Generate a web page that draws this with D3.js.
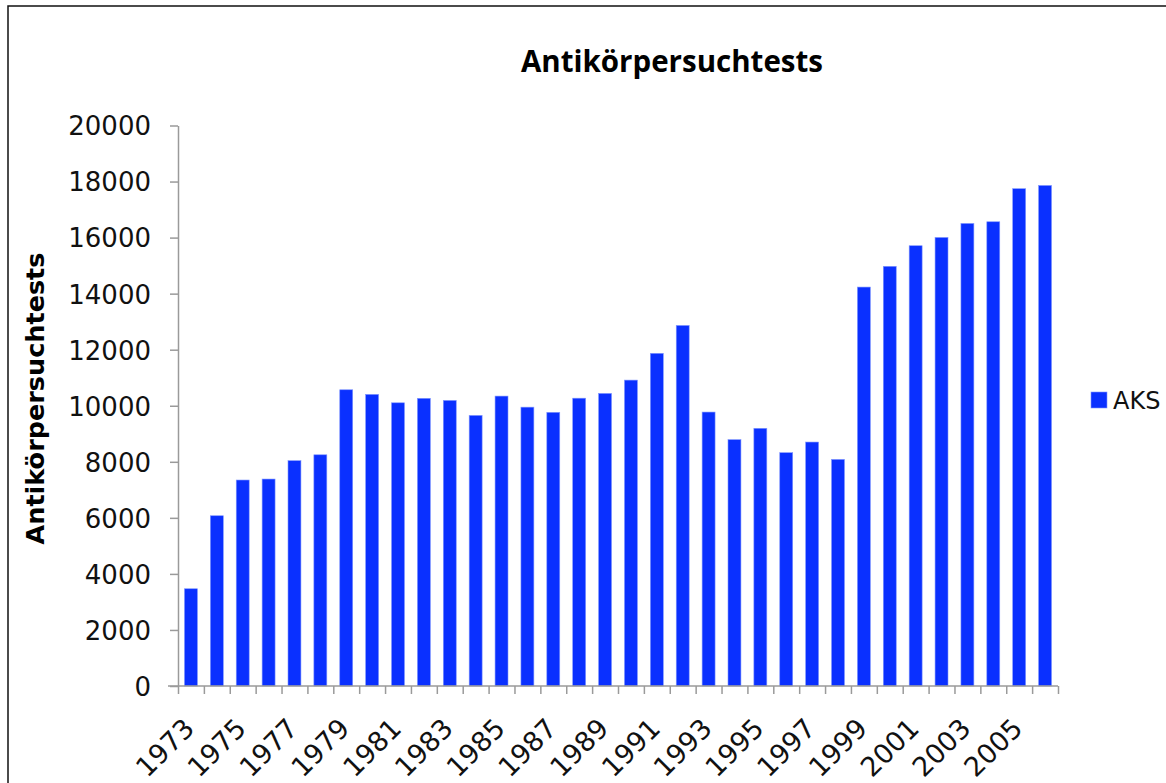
<!DOCTYPE html>
<html>
<head>
<meta charset="utf-8">
<script src="https://cdn.jsdelivr.net/npm/d3@7"></script>
<style>
  body { margin: 0; background: #fff; }
  svg { display: block; }
</style>
</head>
<body>
<div id="chart"></div>
<script>
// data
const years = [
  "1973", "1974", "1975", "1976", "1977", "1978", "1979", "1980", "1981",
  "1982", "1983", "1984", "1985", "1986", "1987", "1988", "1989", "1990",
  "1991", "1992", "1993", "1994", "1995", "1996", "1997", "1998", "1999",
  "2000", "2001", "2002", "2003", "2004", "2005", "2006",
];
const aks = [
  3470, 6075, 7350, 7385, 8040, 8250, 10570, 10405, 10105,
  10265, 10190, 9655, 10345, 9950, 9765, 10270, 10440, 10915,
  11870, 12865, 9775, 8790, 9195, 8325, 8705, 8085, 14235,
  14975, 15710, 16005, 16505, 16565, 17745, 17860,
];
const yTicks = [0, 2000, 4000, 6000, 8000, 10000, 12000, 14000, 16000, 18000, 20000];
const seriesName = "AKS";
const chartTitle = "Antikörpersuchtests";

const W = 1166, H = 783;
const margin = { top: 125.5, left: 178, right: 108, bottom: 97 },
  width = W - margin.left - margin.right,
  height = H - margin.top - margin.bottom;

const svg = d3.select("#chart").append("svg")
  .attr("width", W)
  .attr("height", H);

// outer frame (right and bottom edges fall outside the picture)
svg.append("rect")
  .attr("x", 8).attr("y", 6)
  .attr("width", W + 20).attr("height", H + 20)
  .attr("fill", "none")
  .attr("stroke", "#111")
  .attr("stroke-width", 1.5);

const g = svg.append("g")
  .attr("transform", `translate(${margin.left},${margin.top})`);

const x = d3.scaleBand().domain(years).range([0, width]).paddingInner(0.5).paddingOuter(0.25);
const xEdge = d3.scaleLinear().domain([0, years.length]).range([0, width]);
const y = d3.scaleLinear().domain([0, 20000]).range([height, 0]);
const blue = "#0a30ff";
const axisColor = "#9a9a9a";

// bars
g.selectAll(".bar")
  .data(aks)
  .enter()
  .append("rect")
  .attr("class", "bar")
  .attr("x", (d, i) => x(years[i]))
  .attr("width", x.bandwidth())
  .attr("y", (d) => y(d))
  .attr("height", (d) => height - y(d))
  .attr("fill", blue)
  .attr("stroke", "#7f95ff")
  .attr("stroke-width", 0.6);

// y axis
const yAxis = g.append("g")
  .call(d3.axisLeft(y).tickValues(yTicks).tickFormat(d3.format("d"))
    .tickSize(8).tickSizeOuter(0).tickPadding(19));
yAxis.select(".domain").attr("stroke", axisColor).attr("stroke-width", 1.5);
yAxis.selectAll(".tick line").attr("stroke", axisColor).attr("stroke-width", 1.5);
yAxis.selectAll(".tick text")
  .attr("fill", "#111")
  .style("font-family", "DejaVu Sans, Verdana, sans-serif")
  .style("font-size", "26px")
  .attr("dy", "0.36em");

// x axis: ticks sit between the categories
const xAxis = g.append("g")
  .attr("transform", `translate(0,${height})`)
  .call(d3.axisBottom(xEdge).tickValues(d3.range(years.length + 1))
    .tickSize(8).tickSizeOuter(0).tickFormat(""));
xAxis.select(".domain").attr("stroke", axisColor).attr("stroke-width", 1.5)
  .attr("d", `M-10,0H${width}`);
xAxis.selectAll(".tick line").attr("stroke", axisColor).attr("stroke-width", 1.5);

// category labels, every second year, slanted
g.append("g")
  .selectAll("text")
  .data(years.filter((d, i) => i % 2 === 0))
  .enter()
  .append("text")
  .attr("transform", (d) => `translate(${x(d) + x.bandwidth() / 2 + 5},${height + 44}) rotate(-45)`)
  .attr("text-anchor", "end")
  .attr("fill", "#111")
  .style("font-family", "DejaVu Sans, Verdana, sans-serif")
  .style("font-size", "27px")
  .text((d) => d);

// title
svg.append("text")
  .attr("x", 672)
  .attr("y", 72)
  .attr("text-anchor", "middle")
  .attr("fill", "#000")
  .style("font-family", "'Open Sans', Lato, sans-serif")
  .style("font-weight", "bold")
  .style("font-size", "29.5px")
  .text(chartTitle);

// y axis title
svg.append("text")
  .attr("transform", `translate(44,${(252 + 545) / 2}) rotate(-90)`)
  .attr("text-anchor", "middle")
  .attr("fill", "#000")
  .style("font-family", "DejaVu Sans, Verdana, sans-serif")
  .style("font-weight", "bold")
  .style("font-size", "25.5px")
  .text(chartTitle);

// legend
const legend = svg.append("g").attr("transform", "translate(1091,392)");
legend.append("rect")
  .attr("width", 16).attr("height", 16)
  .attr("fill", blue)
  .attr("stroke", "#7f95ff")
  .attr("stroke-width", 0.6);
legend.append("text")
  .attr("x", 22)
  .attr("y", 17)
  .attr("fill", "#111")
  .style("font-family", "DejaVu Sans, Verdana, sans-serif")
  .style("font-size", "24px")
  .text(seriesName);
</script>
</body>
</html>
